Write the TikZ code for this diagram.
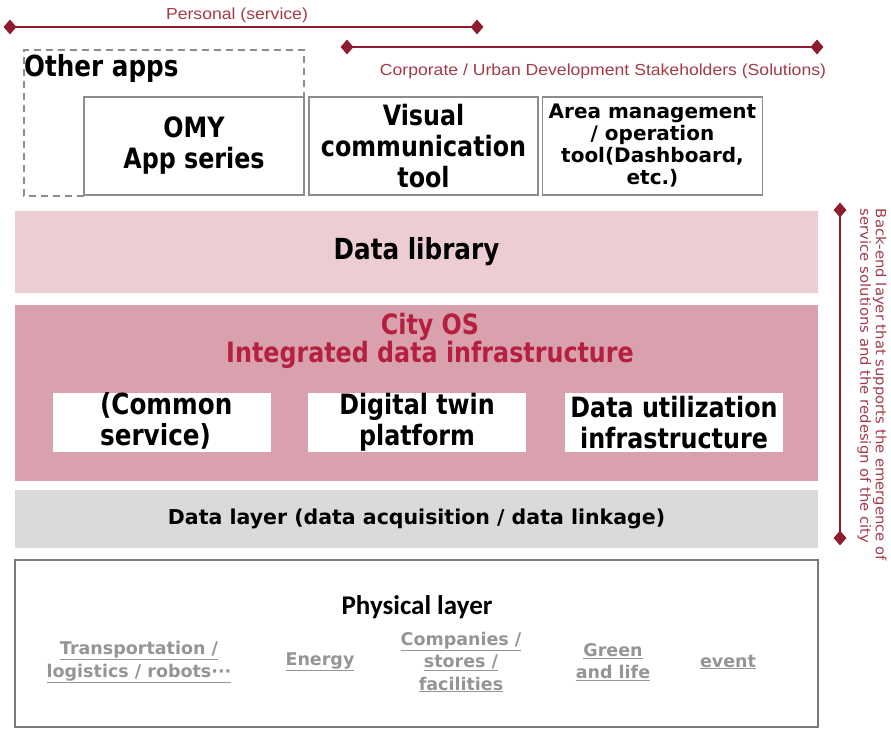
\documentclass[tikz,border=0pt]{standalone}
\usepackage{fontspec}
\setmainfont[FakeStretch=0.85]{DejaVu Sans}
\newfontfamily\labfont[FakeStretch=1.1]{Liberation Sans}
\newfontfamily\calfont{Carlito}
\newfontfamily\vfont{DejaVu Sans}
\newfontfamily\vwide[FakeStretch=1.06]{DejaVu Sans}
\usetikzlibrary{shapes.geometric}
\definecolor{dred}{HTML}{8E1B2E}
\definecolor{lred}{HTML}{A33A48}
\definecolor{libfill}{HTML}{EDCDD4}
\definecolor{osfill}{HTML}{D9A1AD}
\definecolor{ostext}{HTML}{B52040}
\definecolor{layfill}{HTML}{DADADA}
\definecolor{bordergray}{HTML}{8C8C8C}
\definecolor{physgray}{HTML}{7A7A7A}
\definecolor{itemgray}{HTML}{959595}
\tikzset{
  dia/.style={diamond, fill=dred, inner sep=0pt, minimum width=13pt, minimum height=15pt},
  rangeline/.style={draw=dred, line width=2.4pt},
  lab/.style={text=lred, font=\labfont\fontsize{16}{18}\selectfont, inner sep=0pt},
  appbox/.style={draw=bordergray, line width=1.4pt, fill=white, align=center, inner sep=0pt,
     font=\bfseries\fontsize{28}{31}\selectfont},
  band/.style={minimum width=803pt, inner sep=0pt, align=center},
  inbox/.style={fill=white, minimum width=218pt, minimum height=59pt, inner sep=0pt, align=center,
     font=\bfseries\fontsize{28}{31}\selectfont},
  item/.style={text=itemgray, font=\vfont\bfseries\fontsize{17.5}{22.5}\selectfont, align=center, inner sep=0pt}
}
\begin{document}
\begin{tikzpicture}[x=1pt,y=-1pt]
\useasboundingbox (0,0) rectangle (891,730);
% personal range
\node[dia] (p1) at (10,27) {};
\node[dia] (p2) at (477,27) {};
\draw[rangeline] (p1.center) -- (p2.center);
\node[lab] (plab) at (237,15) {Personal (service)};
% corporate range
\node[dia] (c1) at (347,47) {};
\node[dia] (c2) at (817,47) {};
\draw[rangeline] (c1.center) -- (c2.center);
\node[lab] (clab) at (603,71) {Corporate / Urban Development Stakeholders (Solutions)};
% other apps
\coordinate (oa1) at (84,196);
\coordinate (oa2) at (24,196);
\coordinate (oa3) at (24,50);
\coordinate (oa4) at (304,50);
\coordinate (oa5) at (304,97);
\draw[draw=bordergray, line width=1.4pt, dash pattern=on 7pt off 5pt] (oa1) -- (oa2) -- (oa3) -- (oa4) -- (oa5);
\node[anchor=west, inner sep=0pt, font=\bfseries\fontsize{29}{31}\selectfont] (other) at (24,69) {Other apps};
% app boxes
\node[appbox, minimum width=220pt, minimum height=98pt] (omy) at (194,146) {OMY\\App series};
\node[appbox, minimum width=229pt, minimum height=98pt] (vis) at (423.5,146) {Visual\\communication\\tool};
\node[appbox, minimum width=220pt, minimum height=98pt, font=\vfont\bfseries\fontsize{20}{22}\selectfont] (area) at (652.5,146) {Area management\\/ operation\\tool(Dashboard,\\etc.)};
% data library
\node[band, fill=libfill, minimum height=82pt, font=\bfseries\fontsize{29}{31}\selectfont] (lib) at (416.5,252) {Data library};
% city os
\node[band, fill=osfill, minimum height=176pt] (os) at (416.5,393) {};
\node[text=ostext, align=center, inner sep=0pt, font=\bfseries\fontsize{28}{28}\selectfont] (ostitle) at (430,341) {City OS\\Integrated data infrastructure};
\node[inbox] (common) at (161.5,422.5) {};
\node[anchor=west, align=left, inner sep=0pt, font=\bfseries\fontsize{29}{31}\selectfont] (commontxt) at (100,421) {(Common\\service)};
\node[inbox] (twin) at (417,422.5) {Digital twin\\platform};
\node[inbox] (util) at (674,422.5) {Data utilization\\infrastructure};
% data layer
\node[band, fill=layfill, minimum height=58pt, font=\vfont\bfseries\fontsize{20.5}{24}\selectfont] (dlay) at (416.5,519) {Data layer (data acquisition / data linkage)};
% physical layer
\node[band, draw=physgray, line width=2pt, fill=white, minimum height=167pt] (phys) at (416.5,643.5) {};
\node[inner sep=0pt, font=\calfont\bfseries\fontsize{27}{29}\selectfont] (ptitle) at (417,607) {Physical layer};
\node[item] (i1) at (139,662) {\underline{Transportation /}\\\underline{logistics / robots···}};
\node[item] (i2) at (320,662) {\underline{Energy}};
\node[item] (i3) at (461,662) {\underline{Companies /}\\\underline{stores /}\\\underline{facilities}};
\node[item] (i4) at (613,662) {\underline{Green}\\\underline{and life}};
\node[item] (i5) at (728,662) {\underline{event}};
% backend range
\node[dia] (b1) at (840,210) {};
\node[dia] (b2) at (840,538) {};
\draw[draw=dred, line width=2pt] (b1.center) -- (b2.center);
\node[rotate=-90, text=lred, align=left, inner sep=0pt, font=\vwide\fontsize{14}{15.5}\selectfont] (blab) at (872,385) {Back-end layer that supports the emergence of\\service solutions and the redesign of the city};
\end{tikzpicture}
\end{document}
